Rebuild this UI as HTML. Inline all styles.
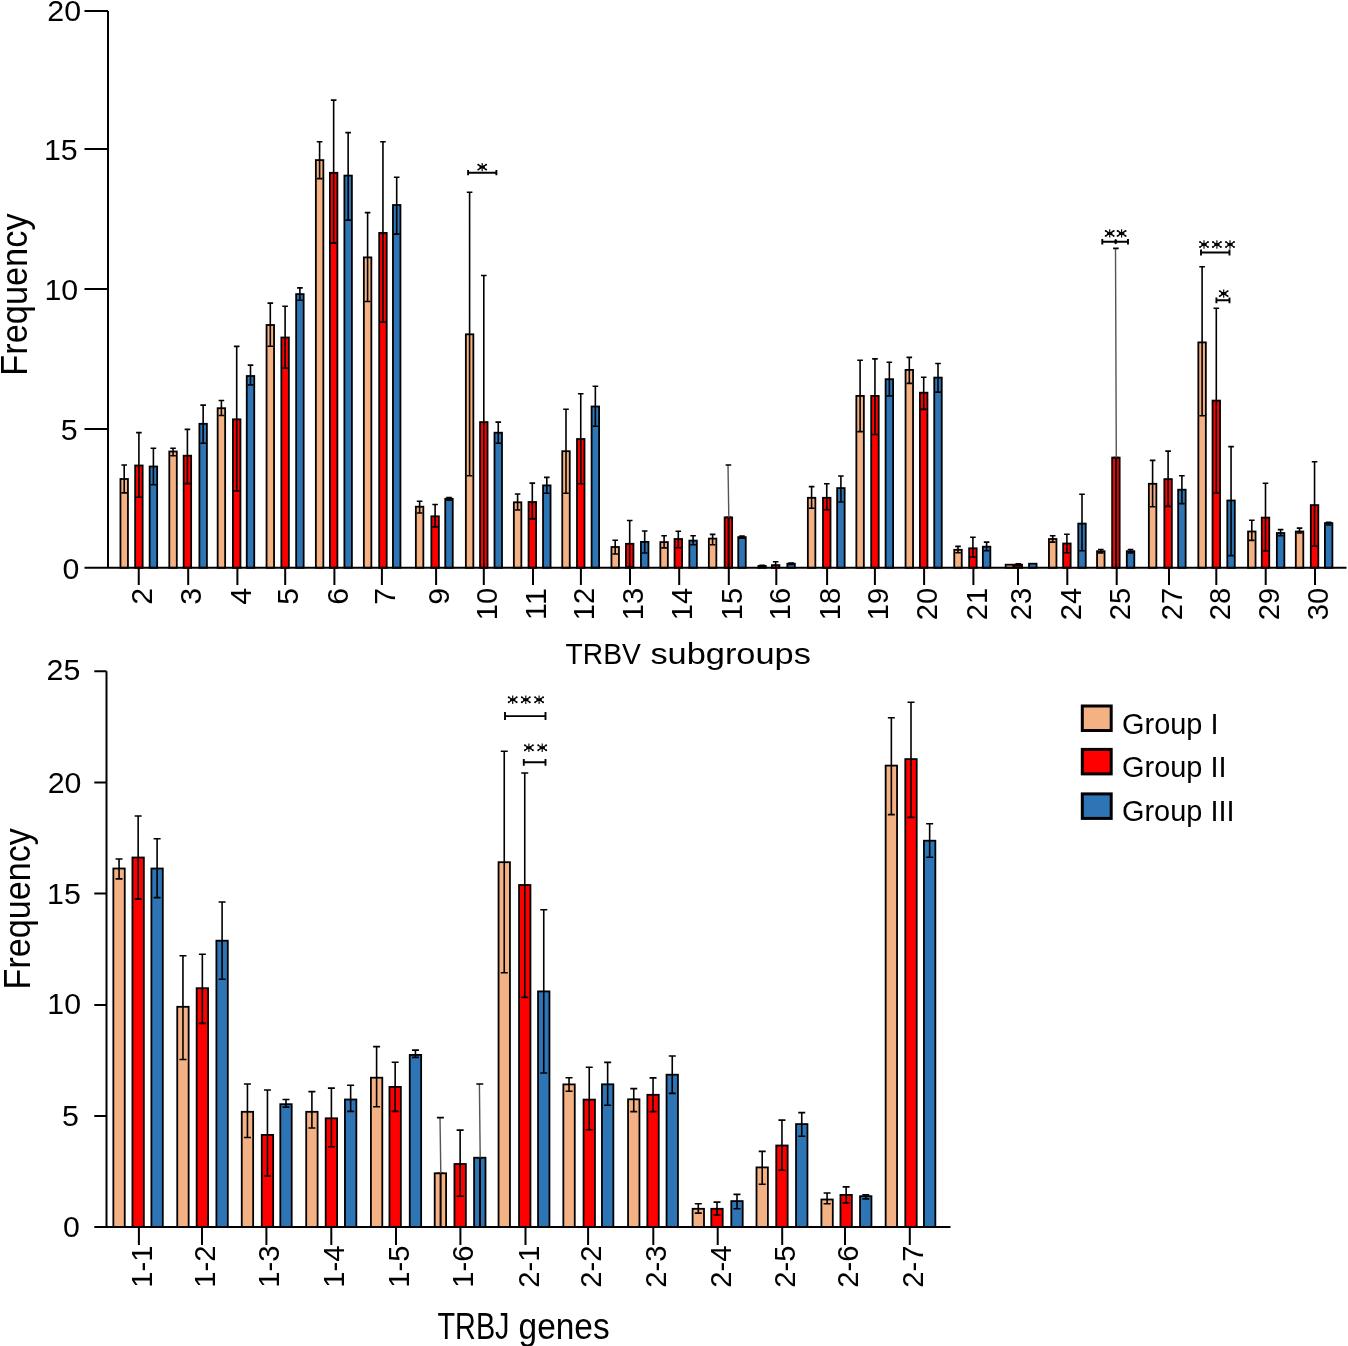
<!DOCTYPE html>
<html><head><meta charset="utf-8"><title>TRBV / TRBJ frequency</title>
<style>html,body{margin:0;padding:0;background:#fff;}svg{display:block;will-change:transform;}text{font-family:"Liberation Sans", sans-serif;fill:#000;}</style></head><body>
<svg width="1348" height="1346" viewBox="0 0 1348 1346">
<rect width="1348" height="1346" fill="#fff"/>
<text x="81.0" y="21.2" font-size="30.3" text-anchor="end">20</text>
<text x="77.6" y="159.8" font-size="30.3" text-anchor="end">15</text>
<text x="78.2" y="299.9" font-size="30.3" text-anchor="end">10</text>
<text x="77.7" y="439.8" font-size="30.3" text-anchor="end">5</text>
<text x="79.3" y="578.8" font-size="30.3" text-anchor="end">0</text>
<rect x="120.45" y="479.00" width="7.50" height="88.80" fill="#F4B183" stroke="#000" stroke-width="1.8"/>
<rect x="135.15" y="465.50" width="7.50" height="102.30" fill="#FF0000" stroke="#000" stroke-width="1.8"/>
<rect x="149.65" y="466.50" width="7.50" height="101.30" fill="#2E75B6" stroke="#000" stroke-width="1.8"/>
<rect x="169.30" y="451.50" width="7.50" height="116.30" fill="#F4B183" stroke="#000" stroke-width="1.8"/>
<rect x="183.65" y="455.70" width="7.50" height="112.10" fill="#FF0000" stroke="#000" stroke-width="1.8"/>
<rect x="199.40" y="423.80" width="7.50" height="144.00" fill="#2E75B6" stroke="#000" stroke-width="1.8"/>
<rect x="217.65" y="408.20" width="7.50" height="159.60" fill="#F4B183" stroke="#000" stroke-width="1.8"/>
<rect x="232.95" y="419.30" width="7.50" height="148.50" fill="#FF0000" stroke="#000" stroke-width="1.8"/>
<rect x="246.75" y="376.00" width="7.50" height="191.80" fill="#2E75B6" stroke="#000" stroke-width="1.8"/>
<rect x="266.55" y="325.00" width="7.50" height="242.80" fill="#F4B183" stroke="#000" stroke-width="1.8"/>
<rect x="281.35" y="337.50" width="7.50" height="230.30" fill="#FF0000" stroke="#000" stroke-width="1.8"/>
<rect x="296.15" y="294.10" width="7.50" height="273.70" fill="#2E75B6" stroke="#000" stroke-width="1.8"/>
<rect x="315.85" y="160.10" width="7.50" height="407.70" fill="#F4B183" stroke="#000" stroke-width="1.8"/>
<rect x="329.90" y="172.80" width="7.50" height="395.00" fill="#FF0000" stroke="#000" stroke-width="1.8"/>
<rect x="344.40" y="175.60" width="7.50" height="392.20" fill="#2E75B6" stroke="#000" stroke-width="1.8"/>
<rect x="363.85" y="257.40" width="7.50" height="310.40" fill="#F4B183" stroke="#000" stroke-width="1.8"/>
<rect x="379.20" y="232.90" width="7.50" height="334.90" fill="#FF0000" stroke="#000" stroke-width="1.8"/>
<rect x="392.95" y="205.00" width="7.50" height="362.80" fill="#2E75B6" stroke="#000" stroke-width="1.8"/>
<rect x="415.85" y="506.70" width="7.50" height="61.10" fill="#F4B183" stroke="#000" stroke-width="1.8"/>
<rect x="431.35" y="516.30" width="7.50" height="51.50" fill="#FF0000" stroke="#000" stroke-width="1.8"/>
<rect x="445.25" y="498.80" width="7.50" height="69.00" fill="#2E75B6" stroke="#000" stroke-width="1.8"/>
<rect x="465.85" y="334.30" width="7.50" height="233.50" fill="#F4B183" stroke="#000" stroke-width="1.8"/>
<rect x="480.05" y="422.10" width="7.50" height="145.70" fill="#FF0000" stroke="#000" stroke-width="1.8"/>
<rect x="494.50" y="432.70" width="7.50" height="135.10" fill="#2E75B6" stroke="#000" stroke-width="1.8"/>
<rect x="513.85" y="502.30" width="7.50" height="65.50" fill="#F4B183" stroke="#000" stroke-width="1.8"/>
<rect x="528.55" y="502.00" width="7.50" height="65.80" fill="#FF0000" stroke="#000" stroke-width="1.8"/>
<rect x="543.05" y="485.40" width="7.50" height="82.40" fill="#2E75B6" stroke="#000" stroke-width="1.8"/>
<rect x="562.25" y="451.20" width="7.50" height="116.60" fill="#F4B183" stroke="#000" stroke-width="1.8"/>
<rect x="577.00" y="439.00" width="7.50" height="128.80" fill="#FF0000" stroke="#000" stroke-width="1.8"/>
<rect x="591.60" y="406.50" width="7.50" height="161.30" fill="#2E75B6" stroke="#000" stroke-width="1.8"/>
<rect x="611.45" y="547.00" width="7.50" height="20.80" fill="#F4B183" stroke="#000" stroke-width="1.8"/>
<rect x="625.95" y="543.80" width="7.50" height="24.00" fill="#FF0000" stroke="#000" stroke-width="1.8"/>
<rect x="640.95" y="541.90" width="7.50" height="25.90" fill="#2E75B6" stroke="#000" stroke-width="1.8"/>
<rect x="660.35" y="542.10" width="7.50" height="25.70" fill="#F4B183" stroke="#000" stroke-width="1.8"/>
<rect x="674.55" y="539.00" width="7.50" height="28.80" fill="#FF0000" stroke="#000" stroke-width="1.8"/>
<rect x="689.35" y="540.60" width="7.50" height="27.20" fill="#2E75B6" stroke="#000" stroke-width="1.8"/>
<rect x="708.85" y="538.60" width="7.50" height="29.20" fill="#F4B183" stroke="#000" stroke-width="1.8"/>
<rect x="724.65" y="517.40" width="7.50" height="50.40" fill="#FF0000" stroke="#000" stroke-width="1.8"/>
<rect x="738.25" y="537.10" width="7.50" height="30.70" fill="#2E75B6" stroke="#000" stroke-width="1.8"/>
<rect x="758.35" y="566.00" width="7.50" height="1.80" fill="#F4B183" stroke="#000" stroke-width="1.8"/>
<rect x="771.90" y="565.10" width="7.50" height="2.70" fill="#FF0000" stroke="#000" stroke-width="1.8"/>
<rect x="787.35" y="563.70" width="7.50" height="4.10" fill="#2E75B6" stroke="#000" stroke-width="1.8"/>
<rect x="807.85" y="497.80" width="7.50" height="70.00" fill="#F4B183" stroke="#000" stroke-width="1.8"/>
<rect x="823.00" y="497.80" width="7.50" height="70.00" fill="#FF0000" stroke="#000" stroke-width="1.8"/>
<rect x="837.15" y="488.10" width="7.50" height="79.70" fill="#2E75B6" stroke="#000" stroke-width="1.8"/>
<rect x="856.35" y="395.90" width="7.50" height="171.90" fill="#F4B183" stroke="#000" stroke-width="1.8"/>
<rect x="871.20" y="395.90" width="7.50" height="171.90" fill="#FF0000" stroke="#000" stroke-width="1.8"/>
<rect x="885.60" y="379.20" width="7.50" height="188.60" fill="#2E75B6" stroke="#000" stroke-width="1.8"/>
<rect x="905.55" y="369.90" width="7.50" height="197.90" fill="#F4B183" stroke="#000" stroke-width="1.8"/>
<rect x="919.95" y="392.70" width="7.50" height="175.10" fill="#FF0000" stroke="#000" stroke-width="1.8"/>
<rect x="934.25" y="377.60" width="7.50" height="190.20" fill="#2E75B6" stroke="#000" stroke-width="1.8"/>
<rect x="954.25" y="549.80" width="7.50" height="18.00" fill="#F4B183" stroke="#000" stroke-width="1.8"/>
<rect x="969.15" y="548.30" width="7.50" height="19.50" fill="#FF0000" stroke="#000" stroke-width="1.8"/>
<rect x="982.85" y="546.70" width="7.50" height="21.10" fill="#2E75B6" stroke="#000" stroke-width="1.8"/>
<rect x="1005.65" y="564.70" width="7.50" height="3.10" fill="#F4B183" stroke="#000" stroke-width="1.8"/>
<rect x="1014.55" y="564.70" width="7.50" height="3.10" fill="#FF0000" stroke="#000" stroke-width="1.8"/>
<rect x="1029.05" y="563.70" width="7.50" height="4.10" fill="#2E75B6" stroke="#000" stroke-width="1.8"/>
<rect x="1048.95" y="539.00" width="7.50" height="28.80" fill="#F4B183" stroke="#000" stroke-width="1.8"/>
<rect x="1063.15" y="543.50" width="7.50" height="24.30" fill="#FF0000" stroke="#000" stroke-width="1.8"/>
<rect x="1078.25" y="523.60" width="7.50" height="44.20" fill="#2E75B6" stroke="#000" stroke-width="1.8"/>
<rect x="1097.05" y="551.20" width="7.50" height="16.60" fill="#F4B183" stroke="#000" stroke-width="1.8"/>
<rect x="1112.15" y="457.60" width="7.50" height="110.20" fill="#FF0000" stroke="#000" stroke-width="1.8"/>
<rect x="1126.80" y="551.20" width="7.50" height="16.60" fill="#2E75B6" stroke="#000" stroke-width="1.8"/>
<rect x="1148.85" y="483.80" width="7.50" height="84.00" fill="#F4B183" stroke="#000" stroke-width="1.8"/>
<rect x="1164.35" y="479.10" width="7.50" height="88.70" fill="#FF0000" stroke="#000" stroke-width="1.8"/>
<rect x="1178.15" y="489.70" width="7.50" height="78.10" fill="#2E75B6" stroke="#000" stroke-width="1.8"/>
<rect x="1198.35" y="342.40" width="7.50" height="225.40" fill="#F4B183" stroke="#000" stroke-width="1.8"/>
<rect x="1212.55" y="400.60" width="7.50" height="167.20" fill="#FF0000" stroke="#000" stroke-width="1.8"/>
<rect x="1227.30" y="500.50" width="7.50" height="67.30" fill="#2E75B6" stroke="#000" stroke-width="1.8"/>
<rect x="1248.05" y="531.50" width="7.50" height="36.30" fill="#F4B183" stroke="#000" stroke-width="1.8"/>
<rect x="1261.75" y="517.60" width="7.50" height="50.20" fill="#FF0000" stroke="#000" stroke-width="1.8"/>
<rect x="1276.85" y="533.00" width="7.50" height="34.80" fill="#2E75B6" stroke="#000" stroke-width="1.8"/>
<rect x="1295.80" y="531.50" width="7.50" height="36.30" fill="#F4B183" stroke="#000" stroke-width="1.8"/>
<rect x="1310.80" y="505.10" width="7.50" height="62.70" fill="#FF0000" stroke="#000" stroke-width="1.8"/>
<rect x="1324.90" y="523.10" width="7.50" height="44.70" fill="#2E75B6" stroke="#000" stroke-width="1.8"/>
<path d="M124.20 465.00V492.90M121.40 465.00H127.00M121.40 492.90H127.00M138.90 432.60V497.30M136.10 432.60H141.70M136.10 497.30H141.70M153.40 448.20V484.80M150.60 448.20H156.20M150.60 484.80H156.20M173.05 448.20V455.70M170.25 448.20H175.85M170.25 455.70H175.85M187.40 429.40V483.60M184.60 429.40H190.20M184.60 483.60H190.20M203.15 405.10V443.20M200.35 405.10H205.95M200.35 443.20H205.95M221.40 400.50V415.50M218.60 400.50H224.20M218.60 415.50H224.20M236.70 346.40V491.00M233.90 346.40H239.50M233.90 491.00H239.50M250.50 365.10V384.90M247.70 365.10H253.30M247.70 384.90H253.30M270.30 303.10V346.20M267.50 303.10H273.10M267.50 346.20H273.10M285.10 306.20V368.10M282.30 306.20H287.90M282.30 368.10H287.90M299.90 287.90V300.30M297.10 287.90H302.70M297.10 300.30H302.70M319.60 141.80V178.60M316.80 141.80H322.40M316.80 178.60H322.40M333.65 100.10V243.10M330.85 100.10H336.45M330.85 243.10H336.45M348.15 132.60V220.10M345.35 132.60H350.95M345.35 220.10H350.95M367.60 212.60V301.50M364.80 212.60H370.40M364.80 301.50H370.40M382.95 141.80V322.10M380.15 141.80H385.75M380.15 322.10H385.75M396.70 177.30V234.10M393.90 177.30H399.50M393.90 234.10H399.50M419.60 501.30V513.00M416.80 501.30H422.40M416.80 513.00H422.40M435.10 504.50V526.90M432.30 504.50H437.90M432.30 526.90H437.90M449.00 497.50V500.10M446.20 497.50H451.80M446.20 500.10H451.80M469.60 192.20V475.80M466.80 192.20H472.40M466.80 475.80H472.40M483.80 275.50V568.00M481.00 275.50H486.60M481.00 568.00H486.60M498.25 422.10V443.20M495.45 422.10H501.05M495.45 443.20H501.05M517.60 494.00V510.00M514.80 494.00H520.40M514.80 510.00H520.40M532.30 483.10V518.90M529.50 483.10H535.10M529.50 518.90H535.10M546.80 477.40V493.30M544.00 477.40H549.60M544.00 493.30H549.60M566.00 409.30V493.30M563.20 409.30H568.80M563.20 493.30H568.80M580.75 393.70V483.80M577.95 393.70H583.55M577.95 483.80H583.55M595.35 386.30V426.30M592.55 386.30H598.15M592.55 426.30H598.15M615.20 540.30V554.00M612.40 540.30H618.00M612.40 554.00H618.00M629.70 520.50V567.00M626.90 520.50H632.50M626.90 567.00H632.50M644.70 531.00V553.00M641.90 531.00H647.50M641.90 553.00H647.50M664.10 535.80V547.90M661.30 535.80H666.90M661.30 547.90H666.90M678.30 531.30V547.70M675.50 531.30H681.10M675.50 547.70H681.10M693.10 535.80V544.80M690.30 535.80H695.90M690.30 544.80H695.90M712.60 534.40V544.80M709.80 534.40H715.40M709.80 544.80H715.40M728.80 517.40V568.00M728.40 517.40V568.00M725.60 517.40H731.20M725.60 568.00H731.20M742.00 536.00V538.20M739.20 536.00H744.80M739.20 538.20H744.80M762.10 565.20V566.80M759.30 565.20H764.90M759.30 566.80H764.90M775.65 561.80V567.80M772.85 561.80H778.45M772.85 567.80H778.45M791.10 563.00V564.50M788.30 563.00H793.90M788.30 564.50H793.90M811.60 486.60V508.20M808.80 486.60H814.40M808.80 508.20H814.40M826.75 483.70V509.70M823.95 483.70H829.55M823.95 509.70H829.55M840.90 476.00V502.00M838.10 476.00H843.70M838.10 502.00H843.70M860.10 360.30V431.60M857.30 360.30H862.90M857.30 431.60H862.90M874.95 358.90V434.50M872.15 358.90H877.75M872.15 434.50H877.75M889.35 362.20V395.90M886.55 362.20H892.15M886.55 395.90H892.15M909.30 357.40V383.40M906.50 357.40H912.10M906.50 383.40H912.10M923.70 377.20V409.40M920.90 377.20H926.50M920.90 409.40H926.50M938.00 363.50V392.10M935.20 363.50H940.80M935.20 392.10H940.80M958.00 546.40V552.70M955.20 546.40H960.80M955.20 552.70H960.80M972.90 537.30V557.00M970.10 537.30H975.70M970.10 557.00H975.70M986.60 542.10V550.80M983.80 542.10H989.40M983.80 550.80H989.40M1018.30 563.70V565.70M1015.50 563.70H1021.10M1015.50 565.70H1021.10M1052.70 535.80V542.10M1049.90 535.80H1055.50M1049.90 542.10H1055.50M1066.90 534.20V552.70M1064.10 534.20H1069.70M1064.10 552.70H1069.70M1082.00 494.30V550.80M1079.20 494.30H1084.80M1079.20 550.80H1084.80M1100.80 549.50V552.90M1098.00 549.50H1103.60M1098.00 552.90H1103.60M1116.30 457.60V568.00M1115.90 457.60V568.00M1113.10 457.60H1118.70M1113.10 568.00H1118.70M1130.55 549.50V552.90M1127.75 549.50H1133.35M1127.75 552.90H1133.35M1152.60 460.40V506.80M1149.80 460.40H1155.40M1149.80 506.80H1155.40M1168.10 451.10V506.40M1165.30 451.10H1170.90M1165.30 506.40H1170.90M1181.90 475.80V503.60M1179.10 475.80H1184.70M1179.10 503.60H1184.70M1202.10 266.80V415.80M1199.30 266.80H1204.90M1199.30 415.80H1204.90M1216.30 308.30V493.00M1213.50 308.30H1219.10M1213.50 493.00H1219.10M1231.05 446.60V555.60M1228.25 446.60H1233.85M1228.25 555.60H1233.85M1251.80 520.30V540.40M1249.00 520.30H1254.60M1249.00 540.40H1254.60M1265.50 483.20V551.00M1262.70 483.20H1268.30M1262.70 551.00H1268.30M1280.60 529.60V535.80M1277.80 529.60H1283.40M1277.80 535.80H1283.40M1299.55 528.10V533.00M1296.75 528.10H1302.35M1296.75 533.00H1302.35M1314.55 461.80V546.30M1311.75 461.80H1317.35M1311.75 546.30H1317.35M1328.65 522.20V525.00M1325.85 522.20H1331.45M1325.85 525.00H1331.45" stroke="#000" stroke-width="1.6" fill="none"/>
<path d="M728.00 465.00L728.80 517.40M1115.50 248.40L1116.30 457.60" stroke="#555" stroke-width="1.4" fill="none"/>
<path d="M725.60 465.00H731.20M1113.10 248.40H1118.70" stroke="#000" stroke-width="1.6" fill="none"/>
<path d="M108 11V568.8M84.5 11.0H108M84.5 149.0H108M84.5 288.9H108M84.5 429.0H108M84.5 567.8H108M84.5 567.8H1346.5M138.75 567.8V585M188.20 567.8V585M237.40 567.8V585M285.20 567.8V585M334.40 567.8V585M381.90 567.8V585M436.10 567.8V585M483.80 567.8V585M533.00 567.8V585M580.90 567.8V585M630.00 567.8V585M679.20 567.8V585M728.80 567.8V585M776.30 567.8V585M827.10 567.8V585M874.90 567.8V585M924.10 567.8V585M973.40 567.8V585M1018.00 567.8V585M1067.30 567.8V585M1116.70 567.8V585M1169.00 567.8V585M1216.30 567.8V585M1265.70 567.8V585M1315.00 567.8V585" stroke="#000" stroke-width="2" fill="none"/>
<text transform="translate(151.95,587.8) rotate(-90)" font-size="30.3" text-anchor="end">2</text>
<text transform="translate(201.40,587.8) rotate(-90)" font-size="30.3" text-anchor="end">3</text>
<text transform="translate(250.60,587.8) rotate(-90)" font-size="30.3" text-anchor="end">4</text>
<text transform="translate(298.40,587.8) rotate(-90)" font-size="30.3" text-anchor="end">5</text>
<text transform="translate(347.60,587.8) rotate(-90)" font-size="30.3" text-anchor="end">6</text>
<text transform="translate(395.10,587.8) rotate(-90)" font-size="30.3" text-anchor="end">7</text>
<text transform="translate(449.30,587.8) rotate(-90)" font-size="30.3" text-anchor="end">9</text>
<text transform="translate(497.00,587.8) rotate(-90)" font-size="30.3" text-anchor="end" textLength="32.4" lengthAdjust="spacingAndGlyphs">10</text>
<text transform="translate(546.20,587.8) rotate(-90)" font-size="30.3" text-anchor="end" textLength="32.4" lengthAdjust="spacingAndGlyphs">11</text>
<text transform="translate(594.10,587.8) rotate(-90)" font-size="30.3" text-anchor="end" textLength="32.4" lengthAdjust="spacingAndGlyphs">12</text>
<text transform="translate(643.20,587.8) rotate(-90)" font-size="30.3" text-anchor="end" textLength="32.4" lengthAdjust="spacingAndGlyphs">13</text>
<text transform="translate(692.40,587.8) rotate(-90)" font-size="30.3" text-anchor="end" textLength="32.4" lengthAdjust="spacingAndGlyphs">14</text>
<text transform="translate(742.00,587.8) rotate(-90)" font-size="30.3" text-anchor="end" textLength="32.4" lengthAdjust="spacingAndGlyphs">15</text>
<text transform="translate(789.50,587.8) rotate(-90)" font-size="30.3" text-anchor="end" textLength="32.4" lengthAdjust="spacingAndGlyphs">16</text>
<text transform="translate(840.30,587.8) rotate(-90)" font-size="30.3" text-anchor="end" textLength="32.4" lengthAdjust="spacingAndGlyphs">18</text>
<text transform="translate(888.10,587.8) rotate(-90)" font-size="30.3" text-anchor="end" textLength="32.4" lengthAdjust="spacingAndGlyphs">19</text>
<text transform="translate(937.30,587.8) rotate(-90)" font-size="30.3" text-anchor="end" textLength="32.4" lengthAdjust="spacingAndGlyphs">20</text>
<text transform="translate(986.60,587.8) rotate(-90)" font-size="30.3" text-anchor="end" textLength="32.4" lengthAdjust="spacingAndGlyphs">21</text>
<text transform="translate(1031.20,587.8) rotate(-90)" font-size="30.3" text-anchor="end" textLength="32.4" lengthAdjust="spacingAndGlyphs">23</text>
<text transform="translate(1080.50,587.8) rotate(-90)" font-size="30.3" text-anchor="end" textLength="32.4" lengthAdjust="spacingAndGlyphs">24</text>
<text transform="translate(1129.90,587.8) rotate(-90)" font-size="30.3" text-anchor="end" textLength="32.4" lengthAdjust="spacingAndGlyphs">25</text>
<text transform="translate(1182.20,587.8) rotate(-90)" font-size="30.3" text-anchor="end" textLength="32.4" lengthAdjust="spacingAndGlyphs">27</text>
<text transform="translate(1229.50,587.8) rotate(-90)" font-size="30.3" text-anchor="end" textLength="32.4" lengthAdjust="spacingAndGlyphs">28</text>
<text transform="translate(1278.90,587.8) rotate(-90)" font-size="30.3" text-anchor="end" textLength="32.4" lengthAdjust="spacingAndGlyphs">29</text>
<text transform="translate(1328.20,587.8) rotate(-90)" font-size="30.3" text-anchor="end" textLength="32.4" lengthAdjust="spacingAndGlyphs">30</text>
<text x="565.5" y="663.6" font-size="30.3" textLength="75.3" lengthAdjust="spacingAndGlyphs">TRBV</text>
<text x="650.4" y="663.6" font-size="30.3" textLength="160.5" lengthAdjust="spacingAndGlyphs">subgroups</text>
<text transform="translate(27.2,294.6) rotate(-90)" font-size="36.0" text-anchor="middle" textLength="162.3" lengthAdjust="spacingAndGlyphs">Frequency</text>
<path d="M468.10 172.70H496.40M468.10 170.10V175.30M496.40 170.10V175.30" stroke="#000" stroke-width="1.9" fill="none"/>
<g fill="#000"><path d="M482.20 167.10L478.20 164.60M482.20 167.10L478.20 169.60M482.20 167.10L486.20 164.60M482.20 167.10L486.20 169.60" stroke="#000" stroke-width="1.25" fill="none"/><path d="M482.20 162.90V171.30" stroke="#000" stroke-width="1.15" fill="none"/><rect x="479.50" y="165.85" width="5.4" height="2.5" rx="0.6"/><circle cx="478.20" cy="164.60" r="0.95"/><circle cx="478.20" cy="169.60" r="0.95"/><circle cx="486.20" cy="164.60" r="0.95"/><circle cx="486.20" cy="169.60" r="0.95"/></g>
<path d="M1102.30 241.70H1128.00M1102.30 239.00V244.40M1128.00 239.00V244.40" stroke="#000" stroke-width="1.9" fill="none"/>
<ellipse cx="1115.7" cy="241.6" rx="1.5" ry="2.6" fill="#000"/>
<g fill="#000"><path d="M1109.70 233.40L1105.70 230.90M1109.70 233.40L1105.70 235.90M1109.70 233.40L1113.70 230.90M1109.70 233.40L1113.70 235.90" stroke="#000" stroke-width="1.25" fill="none"/><path d="M1109.70 229.20V237.60" stroke="#000" stroke-width="1.15" fill="none"/><rect x="1107.00" y="232.15" width="5.4" height="2.5" rx="0.6"/><circle cx="1105.70" cy="230.90" r="0.95"/><circle cx="1105.70" cy="235.90" r="0.95"/><circle cx="1113.70" cy="230.90" r="0.95"/><circle cx="1113.70" cy="235.90" r="0.95"/></g>
<g fill="#000"><path d="M1121.60 233.40L1117.60 230.90M1121.60 233.40L1117.60 235.90M1121.60 233.40L1125.60 230.90M1121.60 233.40L1125.60 235.90" stroke="#000" stroke-width="1.25" fill="none"/><path d="M1121.60 229.20V237.60" stroke="#000" stroke-width="1.15" fill="none"/><rect x="1118.90" y="232.15" width="5.4" height="2.5" rx="0.6"/><circle cx="1117.60" cy="230.90" r="0.95"/><circle cx="1117.60" cy="235.90" r="0.95"/><circle cx="1125.60" cy="230.90" r="0.95"/><circle cx="1125.60" cy="235.90" r="0.95"/></g>
<path d="M1201.00 252.50H1229.50M1201.00 249.50V255.50M1229.50 249.50V255.50" stroke="#000" stroke-width="1.9" fill="none"/>
<g fill="#000"><path d="M1204.00 244.50L1200.00 242.00M1204.00 244.50L1200.00 247.00M1204.00 244.50L1208.00 242.00M1204.00 244.50L1208.00 247.00" stroke="#000" stroke-width="1.25" fill="none"/><path d="M1204.00 240.30V248.70" stroke="#000" stroke-width="1.15" fill="none"/><rect x="1201.30" y="243.25" width="5.4" height="2.5" rx="0.6"/><circle cx="1200.00" cy="242.00" r="0.95"/><circle cx="1200.00" cy="247.00" r="0.95"/><circle cx="1208.00" cy="242.00" r="0.95"/><circle cx="1208.00" cy="247.00" r="0.95"/></g>
<g fill="#000"><path d="M1216.90 244.50L1212.90 242.00M1216.90 244.50L1212.90 247.00M1216.90 244.50L1220.90 242.00M1216.90 244.50L1220.90 247.00" stroke="#000" stroke-width="1.25" fill="none"/><path d="M1216.90 240.30V248.70" stroke="#000" stroke-width="1.15" fill="none"/><rect x="1214.20" y="243.25" width="5.4" height="2.5" rx="0.6"/><circle cx="1212.90" cy="242.00" r="0.95"/><circle cx="1212.90" cy="247.00" r="0.95"/><circle cx="1220.90" cy="242.00" r="0.95"/><circle cx="1220.90" cy="247.00" r="0.95"/></g>
<g fill="#000"><path d="M1230.00 244.50L1226.00 242.00M1230.00 244.50L1226.00 247.00M1230.00 244.50L1234.00 242.00M1230.00 244.50L1234.00 247.00" stroke="#000" stroke-width="1.25" fill="none"/><path d="M1230.00 240.30V248.70" stroke="#000" stroke-width="1.15" fill="none"/><rect x="1227.30" y="243.25" width="5.4" height="2.5" rx="0.6"/><circle cx="1226.00" cy="242.00" r="0.95"/><circle cx="1226.00" cy="247.00" r="0.95"/><circle cx="1234.00" cy="242.00" r="0.95"/><circle cx="1234.00" cy="247.00" r="0.95"/></g>
<path d="M1216.40 300.30H1229.50M1216.40 297.40V303.20M1229.50 297.40V303.20" stroke="#000" stroke-width="1.9" fill="none"/>
<g fill="#000"><path d="M1223.70 293.60L1219.70 291.10M1223.70 293.60L1219.70 296.10M1223.70 293.60L1227.70 291.10M1223.70 293.60L1227.70 296.10" stroke="#000" stroke-width="1.25" fill="none"/><path d="M1223.70 289.40V297.80" stroke="#000" stroke-width="1.15" fill="none"/><rect x="1221.00" y="292.35" width="5.4" height="2.5" rx="0.6"/><circle cx="1219.70" cy="291.10" r="0.95"/><circle cx="1219.70" cy="296.10" r="0.95"/><circle cx="1227.70" cy="291.10" r="0.95"/><circle cx="1227.70" cy="296.10" r="0.95"/></g>
<text x="80.3" y="680.1" font-size="30.3" text-anchor="end">25</text>
<text x="81.4" y="792.7" font-size="30.3" text-anchor="end">20</text>
<text x="80.8" y="903.8" font-size="30.3" text-anchor="end">15</text>
<text x="81.0" y="1014.3" font-size="30.3" text-anchor="end">10</text>
<text x="78.9" y="1126.3" font-size="30.3" text-anchor="end">5</text>
<text x="79.9" y="1237.4" font-size="30.3" text-anchor="end">0</text>
<rect x="113.35" y="868.50" width="11.40" height="358.40" fill="#F4B183" stroke="#000" stroke-width="1.8"/>
<rect x="132.45" y="857.50" width="11.40" height="369.40" fill="#FF0000" stroke="#000" stroke-width="1.8"/>
<rect x="151.40" y="868.50" width="11.40" height="358.40" fill="#2E75B6" stroke="#000" stroke-width="1.8"/>
<rect x="177.25" y="1006.80" width="11.40" height="220.10" fill="#F4B183" stroke="#000" stroke-width="1.8"/>
<rect x="196.65" y="988.20" width="11.40" height="238.70" fill="#FF0000" stroke="#000" stroke-width="1.8"/>
<rect x="216.40" y="940.70" width="11.40" height="286.20" fill="#2E75B6" stroke="#000" stroke-width="1.8"/>
<rect x="241.75" y="1111.80" width="11.40" height="115.10" fill="#F4B183" stroke="#000" stroke-width="1.8"/>
<rect x="261.75" y="1134.90" width="11.40" height="92.00" fill="#FF0000" stroke="#000" stroke-width="1.8"/>
<rect x="280.30" y="1104.20" width="11.40" height="122.70" fill="#2E75B6" stroke="#000" stroke-width="1.8"/>
<rect x="306.20" y="1111.80" width="11.40" height="115.10" fill="#F4B183" stroke="#000" stroke-width="1.8"/>
<rect x="325.70" y="1118.30" width="11.40" height="108.60" fill="#FF0000" stroke="#000" stroke-width="1.8"/>
<rect x="344.95" y="1099.50" width="11.40" height="127.40" fill="#2E75B6" stroke="#000" stroke-width="1.8"/>
<rect x="370.90" y="1077.70" width="11.40" height="149.20" fill="#F4B183" stroke="#000" stroke-width="1.8"/>
<rect x="389.45" y="1086.90" width="11.40" height="140.00" fill="#FF0000" stroke="#000" stroke-width="1.8"/>
<rect x="409.75" y="1054.90" width="11.40" height="172.00" fill="#2E75B6" stroke="#000" stroke-width="1.8"/>
<rect x="434.70" y="1173.30" width="11.40" height="53.60" fill="#F4B183" stroke="#000" stroke-width="1.8"/>
<rect x="454.45" y="1164.00" width="11.40" height="62.90" fill="#FF0000" stroke="#000" stroke-width="1.8"/>
<rect x="474.10" y="1157.70" width="11.40" height="69.20" fill="#2E75B6" stroke="#000" stroke-width="1.8"/>
<rect x="498.55" y="862.20" width="11.40" height="364.70" fill="#F4B183" stroke="#000" stroke-width="1.8"/>
<rect x="519.05" y="885.00" width="11.40" height="341.90" fill="#FF0000" stroke="#000" stroke-width="1.8"/>
<rect x="538.05" y="991.40" width="11.40" height="235.50" fill="#2E75B6" stroke="#000" stroke-width="1.8"/>
<rect x="563.35" y="1084.40" width="11.40" height="142.50" fill="#F4B183" stroke="#000" stroke-width="1.8"/>
<rect x="583.55" y="1099.60" width="11.40" height="127.30" fill="#FF0000" stroke="#000" stroke-width="1.8"/>
<rect x="601.95" y="1084.30" width="11.40" height="142.60" fill="#2E75B6" stroke="#000" stroke-width="1.8"/>
<rect x="628.05" y="1099.30" width="11.40" height="127.60" fill="#F4B183" stroke="#000" stroke-width="1.8"/>
<rect x="647.35" y="1094.80" width="11.40" height="132.10" fill="#FF0000" stroke="#000" stroke-width="1.8"/>
<rect x="666.55" y="1074.70" width="11.40" height="152.20" fill="#2E75B6" stroke="#000" stroke-width="1.8"/>
<rect x="692.60" y="1208.80" width="11.40" height="18.10" fill="#F4B183" stroke="#000" stroke-width="1.8"/>
<rect x="711.30" y="1208.80" width="11.40" height="18.10" fill="#FF0000" stroke="#000" stroke-width="1.8"/>
<rect x="731.30" y="1201.10" width="11.40" height="25.80" fill="#2E75B6" stroke="#000" stroke-width="1.8"/>
<rect x="756.50" y="1167.40" width="11.40" height="59.50" fill="#F4B183" stroke="#000" stroke-width="1.8"/>
<rect x="776.25" y="1145.50" width="11.40" height="81.40" fill="#FF0000" stroke="#000" stroke-width="1.8"/>
<rect x="796.05" y="1124.10" width="11.40" height="102.80" fill="#2E75B6" stroke="#000" stroke-width="1.8"/>
<rect x="821.40" y="1199.50" width="11.40" height="27.40" fill="#F4B183" stroke="#000" stroke-width="1.8"/>
<rect x="840.45" y="1194.90" width="11.40" height="32.00" fill="#FF0000" stroke="#000" stroke-width="1.8"/>
<rect x="860.05" y="1196.20" width="11.40" height="30.70" fill="#2E75B6" stroke="#000" stroke-width="1.8"/>
<rect x="885.65" y="765.60" width="11.40" height="461.30" fill="#F4B183" stroke="#000" stroke-width="1.8"/>
<rect x="905.30" y="759.10" width="11.40" height="467.80" fill="#FF0000" stroke="#000" stroke-width="1.8"/>
<rect x="923.95" y="840.70" width="11.40" height="386.20" fill="#2E75B6" stroke="#000" stroke-width="1.8"/>
<path d="M119.05 859.00V878.90M115.55 859.00H122.55M115.55 878.90H122.55M138.15 816.00V899.10M134.65 816.00H141.65M134.65 899.10H141.65M157.10 838.80V897.60M153.60 838.80H160.60M153.60 897.60H160.60M182.95 955.70V1059.50M179.45 955.70H186.45M179.45 1059.50H186.45M202.35 954.20V1023.40M198.85 954.20H205.85M198.85 1023.40H205.85M222.10 902.00V979.20M218.60 902.00H225.60M218.60 979.20H225.60M247.45 1084.00V1137.50M243.95 1084.00H250.95M243.95 1137.50H250.95M267.45 1090.00V1176.00M263.95 1090.00H270.95M263.95 1176.00H270.95M286.00 1099.50V1107.10M282.50 1099.50H289.50M282.50 1107.10H289.50M311.90 1091.60V1128.00M308.40 1091.60H315.40M308.40 1128.00H315.40M331.40 1088.10V1146.80M327.90 1088.10H334.90M327.90 1146.80H334.90M350.65 1085.20V1111.40M347.15 1085.20H354.15M347.15 1111.40H354.15M376.60 1046.60V1106.80M373.10 1046.60H380.10M373.10 1106.80H380.10M395.15 1062.20V1111.40M391.65 1062.20H398.65M391.65 1111.40H398.65M415.45 1050.10V1057.40M411.95 1050.10H418.95M411.95 1057.40H418.95M440.80 1173.30V1227.00M440.40 1173.30V1227.00M436.90 1173.30H443.90M436.90 1227.00H443.90M460.15 1130.10V1196.20M456.65 1130.10H463.65M456.65 1196.20H463.65M480.20 1157.70V1227.00M479.80 1157.70V1227.00M476.30 1157.70H483.30M476.30 1227.00H483.30M504.25 751.30V972.70M500.75 751.30H507.75M500.75 972.70H507.75M524.75 773.00V997.40M521.25 773.00H528.25M521.25 997.40H528.25M543.75 909.70V1073.00M540.25 909.70H547.25M540.25 1073.00H547.25M569.05 1077.70V1091.30M565.55 1077.70H572.55M565.55 1091.30H572.55M589.25 1067.20V1129.70M585.75 1067.20H592.75M585.75 1129.70H592.75M607.65 1062.40V1105.30M604.15 1062.40H611.15M604.15 1105.30H611.15M633.75 1088.60V1111.60M630.25 1088.60H637.25M630.25 1111.60H637.25M653.05 1077.90V1111.60M649.55 1077.90H656.55M649.55 1111.60H656.55M672.25 1056.00V1093.40M668.75 1056.00H675.75M668.75 1093.40H675.75M698.30 1203.70V1213.10M694.80 1203.70H701.80M694.80 1213.10H701.80M717.00 1202.10V1215.00M713.50 1202.10H720.50M713.50 1215.00H720.50M737.00 1194.40V1208.80M733.50 1194.40H740.50M733.50 1208.80H740.50M762.20 1151.40V1184.20M758.70 1151.40H765.70M758.70 1184.20H765.70M781.95 1120.10V1170.30M778.45 1120.10H785.45M778.45 1170.30H785.45M801.75 1112.60V1136.20M798.25 1112.60H805.25M798.25 1136.20H805.25M827.10 1193.00V1203.70M823.60 1193.00H830.60M823.60 1203.70H830.60M846.15 1186.90V1202.90M842.65 1186.90H849.65M842.65 1202.90H849.65M865.75 1194.90V1198.90M862.25 1194.90H869.25M862.25 1198.90H869.25M891.35 717.70V814.60M887.85 717.70H894.85M887.85 814.60H894.85M911.00 702.30V817.40M907.50 702.30H914.50M907.50 817.40H914.50M929.65 823.70V857.20M926.15 823.70H933.15M926.15 857.20H933.15" stroke="#000" stroke-width="1.6" fill="none"/>
<path d="M440.00 1117.60L440.80 1173.30M479.40 1084.00L480.20 1157.70" stroke="#555" stroke-width="1.4" fill="none"/>
<path d="M436.90 1117.60H443.90M476.30 1084.00H483.30" stroke="#000" stroke-width="1.6" fill="none"/>
<path d="M106.5 671.3V1227.9M94.3 671.3H106.5M94.3 782.4H106.5M94.3 893.4H106.5M94.3 1004.9H106.5M94.3 1116.0H106.5M94.3 1226.9H106.5M94.3 1226.9H950.5M138.90 1226.9V1245M202.00 1226.9V1245M266.40 1226.9V1245M331.30 1226.9V1245M396.00 1226.9V1245M460.40 1226.9V1245M525.50 1226.9V1245M588.10 1226.9V1245M653.30 1226.9V1245M717.70 1226.9V1245M782.20 1226.9V1245M845.00 1226.9V1245M909.80 1226.9V1245" stroke="#000" stroke-width="2" fill="none"/>
<text transform="translate(151.90,1245.6) rotate(-90)" font-size="30.3" text-anchor="end" textLength="42.2" lengthAdjust="spacingAndGlyphs">1-1</text>
<text transform="translate(215.00,1245.6) rotate(-90)" font-size="30.3" text-anchor="end" textLength="42.2" lengthAdjust="spacingAndGlyphs">1-2</text>
<text transform="translate(279.40,1245.6) rotate(-90)" font-size="30.3" text-anchor="end" textLength="42.2" lengthAdjust="spacingAndGlyphs">1-3</text>
<text transform="translate(344.30,1245.6) rotate(-90)" font-size="30.3" text-anchor="end" textLength="42.2" lengthAdjust="spacingAndGlyphs">1-4</text>
<text transform="translate(409.00,1245.6) rotate(-90)" font-size="30.3" text-anchor="end" textLength="42.2" lengthAdjust="spacingAndGlyphs">1-5</text>
<text transform="translate(473.40,1245.6) rotate(-90)" font-size="30.3" text-anchor="end" textLength="42.2" lengthAdjust="spacingAndGlyphs">1-6</text>
<text transform="translate(538.50,1245.6) rotate(-90)" font-size="30.3" text-anchor="end" textLength="42.2" lengthAdjust="spacingAndGlyphs">2-1</text>
<text transform="translate(601.10,1245.6) rotate(-90)" font-size="30.3" text-anchor="end" textLength="42.2" lengthAdjust="spacingAndGlyphs">2-2</text>
<text transform="translate(666.30,1245.6) rotate(-90)" font-size="30.3" text-anchor="end" textLength="42.2" lengthAdjust="spacingAndGlyphs">2-3</text>
<text transform="translate(730.70,1245.6) rotate(-90)" font-size="30.3" text-anchor="end" textLength="42.2" lengthAdjust="spacingAndGlyphs">2-4</text>
<text transform="translate(795.20,1245.6) rotate(-90)" font-size="30.3" text-anchor="end" textLength="42.2" lengthAdjust="spacingAndGlyphs">2-5</text>
<text transform="translate(858.00,1245.6) rotate(-90)" font-size="30.3" text-anchor="end" textLength="42.2" lengthAdjust="spacingAndGlyphs">2-6</text>
<text transform="translate(922.80,1245.6) rotate(-90)" font-size="30.3" text-anchor="end" textLength="42.2" lengthAdjust="spacingAndGlyphs">2-7</text>
<text x="437.5" y="1338.6" font-size="36.0" textLength="72.0" lengthAdjust="spacingAndGlyphs">TRBJ</text>
<text x="518.6" y="1338.6" font-size="36.0" textLength="91.0" lengthAdjust="spacingAndGlyphs">genes</text>
<text transform="translate(29.5,908.8) rotate(-90)" font-size="36.0" text-anchor="middle" textLength="161.3" lengthAdjust="spacingAndGlyphs">Frequency</text>
<path d="M505.00 716.10H545.50M505.00 712.10V720.10M545.50 712.10V720.10" stroke="#000" stroke-width="1.9" fill="none"/>
<g fill="#000"><path d="M512.70 699.80L508.70 697.30M512.70 699.80L508.70 702.30M512.70 699.80L516.70 697.30M512.70 699.80L516.70 702.30" stroke="#000" stroke-width="1.25" fill="none"/><path d="M512.70 695.60V704.00" stroke="#000" stroke-width="1.15" fill="none"/><rect x="510.00" y="698.55" width="5.4" height="2.5" rx="0.6"/><circle cx="508.70" cy="697.30" r="0.95"/><circle cx="508.70" cy="702.30" r="0.95"/><circle cx="516.70" cy="697.30" r="0.95"/><circle cx="516.70" cy="702.30" r="0.95"/></g>
<g fill="#000"><path d="M525.80 699.80L521.80 697.30M525.80 699.80L521.80 702.30M525.80 699.80L529.80 697.30M525.80 699.80L529.80 702.30" stroke="#000" stroke-width="1.25" fill="none"/><path d="M525.80 695.60V704.00" stroke="#000" stroke-width="1.15" fill="none"/><rect x="523.10" y="698.55" width="5.4" height="2.5" rx="0.6"/><circle cx="521.80" cy="697.30" r="0.95"/><circle cx="521.80" cy="702.30" r="0.95"/><circle cx="529.80" cy="697.30" r="0.95"/><circle cx="529.80" cy="702.30" r="0.95"/></g>
<g fill="#000"><path d="M539.10 699.80L535.10 697.30M539.10 699.80L535.10 702.30M539.10 699.80L543.10 697.30M539.10 699.80L543.10 702.30" stroke="#000" stroke-width="1.25" fill="none"/><path d="M539.10 695.60V704.00" stroke="#000" stroke-width="1.15" fill="none"/><rect x="536.40" y="698.55" width="5.4" height="2.5" rx="0.6"/><circle cx="535.10" cy="697.30" r="0.95"/><circle cx="535.10" cy="702.30" r="0.95"/><circle cx="543.10" cy="697.30" r="0.95"/><circle cx="543.10" cy="702.30" r="0.95"/></g>
<path d="M523.80 762.30H545.50M523.80 758.90V765.70M545.50 758.90V765.70" stroke="#000" stroke-width="1.9" fill="none"/>
<g fill="#000"><path d="M528.90 747.70L524.90 745.20M528.90 747.70L524.90 750.20M528.90 747.70L532.90 745.20M528.90 747.70L532.90 750.20" stroke="#000" stroke-width="1.25" fill="none"/><path d="M528.90 743.50V751.90" stroke="#000" stroke-width="1.15" fill="none"/><rect x="526.20" y="746.45" width="5.4" height="2.5" rx="0.6"/><circle cx="524.90" cy="745.20" r="0.95"/><circle cx="524.90" cy="750.20" r="0.95"/><circle cx="532.90" cy="745.20" r="0.95"/><circle cx="532.90" cy="750.20" r="0.95"/></g>
<g fill="#000"><path d="M542.20 747.70L538.20 745.20M542.20 747.70L538.20 750.20M542.20 747.70L546.20 745.20M542.20 747.70L546.20 750.20" stroke="#000" stroke-width="1.25" fill="none"/><path d="M542.20 743.50V751.90" stroke="#000" stroke-width="1.15" fill="none"/><rect x="539.50" y="746.45" width="5.4" height="2.5" rx="0.6"/><circle cx="538.20" cy="745.20" r="0.95"/><circle cx="538.20" cy="750.20" r="0.95"/><circle cx="546.20" cy="745.20" r="0.95"/><circle cx="546.20" cy="750.20" r="0.95"/></g>
<rect x="1082.3" y="706.0" width="28.9" height="24.5" fill="#F4B183" stroke="#000" stroke-width="3"/>
<text x="1122.0" y="734.2" font-size="30.3" textLength="96.5" lengthAdjust="spacingAndGlyphs">Group I</text>
<rect x="1082.3" y="749.4" width="28.9" height="24.5" fill="#FF0000" stroke="#000" stroke-width="3"/>
<text x="1122.0" y="776.5" font-size="30.3" textLength="104.5" lengthAdjust="spacingAndGlyphs">Group II</text>
<rect x="1082.3" y="793.9" width="28.9" height="24.5" fill="#2E75B6" stroke="#000" stroke-width="3"/>
<text x="1122.0" y="821.3" font-size="30.3" textLength="112.5" lengthAdjust="spacingAndGlyphs">Group III</text>
</svg></body></html>
